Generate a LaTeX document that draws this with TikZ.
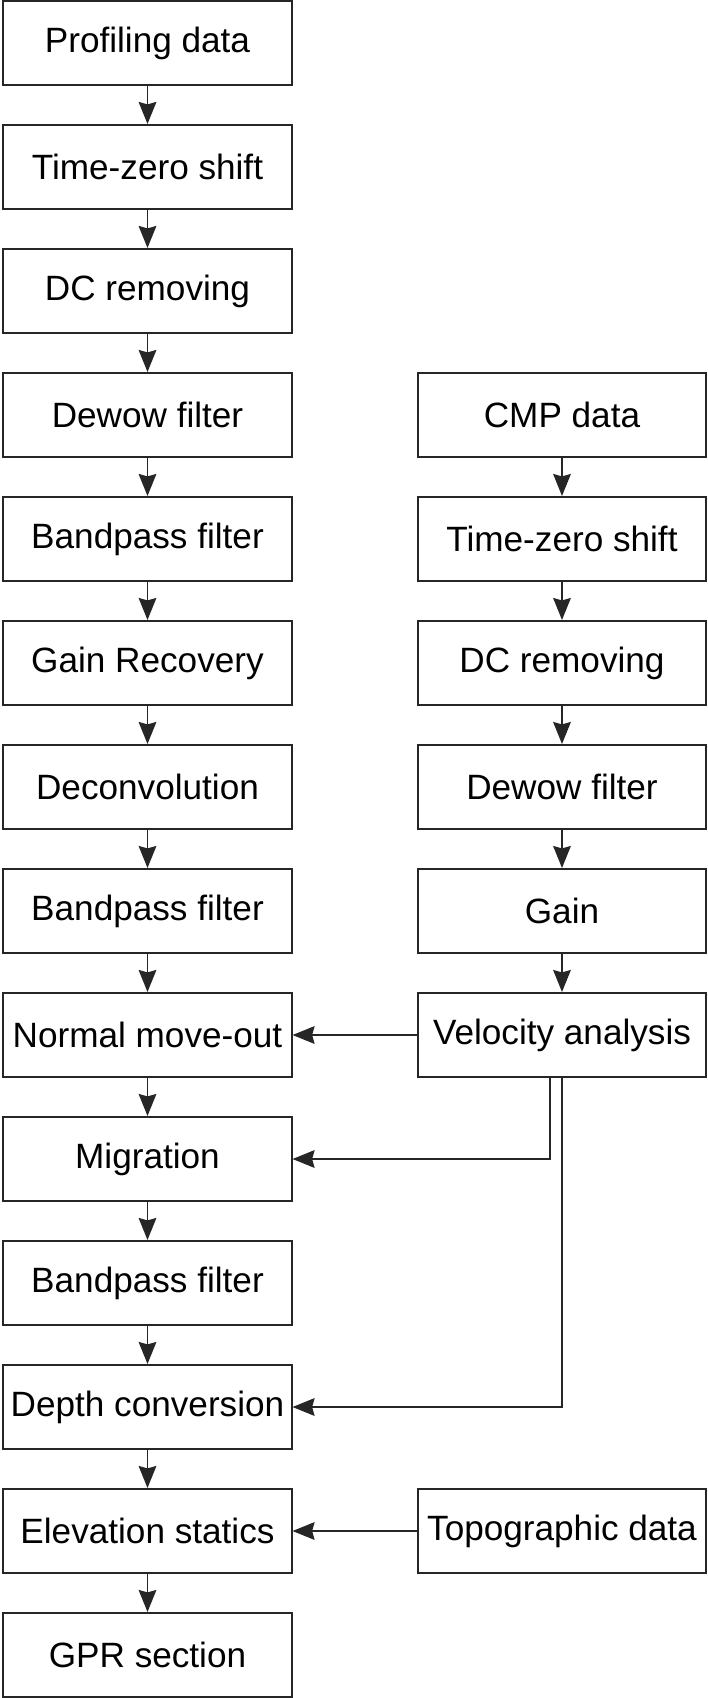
\documentclass[tikz,border=0pt]{standalone}
\usepackage{fontspec}
\setmainfont{Liberation Sans}
\usetikzlibrary{arrows.meta}
\tikzset{stage/.style={draw=black!85,line width=1.4pt,minimum width=7.2cm,
   minimum height=2.1cm,inner sep=0pt,font=\fontsize{25}{30}\selectfont},
 arr/.style={draw=black!85,line width=1.4pt,
   -{Stealth[length=5.5mm,width=4.4mm,inset=0.6mm]}},
 }

\begin{document}
\begin{tikzpicture}[x=0.025cm,y=-0.025cm]
    \useasboundingbox (0,0) rectangle (708,1698);
    % profiling branch
    \node[stage] (prof) at (147.5, 43) {Profiling data};
    \node[stage] (tzs) at (147.5, 167) {Time-zero shift};
    \node[stage] (dcr) at (147.5, 291) {DC removing};
    \node[stage] (dew) at (147.5, 415) {Dewow filter};
    \node[stage] (bpa) at (147.5, 539) {Bandpass filter};
    \node[stage] (gain) at (147.5, 663) {Gain Recovery};
    \node[stage] (dec) at (147.5, 787) {Deconvolution};
    \node[stage] (bpb) at (147.5, 911) {Bandpass filter};
    \node[stage] (nmo) at (147.5, 1035) {Normal move-out};
    \node[stage] (mig) at (147.5, 1159) {Migration};
    \node[stage] (bpc) at (147.5, 1283) {Bandpass filter};
    \node[stage] (dep) at (147.5, 1407) {Depth conversion};
    \node[stage] (elev) at (147.5, 1531) {Elevation statics};
    \node[stage] (gpr) at (147.5, 1655) {GPR section};
    % cmp branch
    \node[stage] (cmp) at (562, 415) {CMP data};
    \node[stage] (ctzs) at (562, 539) {Time-zero shift};
    \node[stage] (cdcr) at (562, 663) {DC removing};
    \node[stage] (cdew) at (562, 787) {Dewow filter};
    \node[stage] (cgain) at (562, 911) {Gain};
    \node[stage] (vel) at (562, 1035) {Velocity analysis};
    \node[stage] (topo) at (562, 1531) {Topographic data};

    \draw[arr] (prof) -- (tzs);
    \draw[arr] (tzs) -- (dcr);
    \draw[arr] (dcr) -- (dew);
    \draw[arr] (dew) -- (bpa);
    \draw[arr] (bpa) -- (gain);
    \draw[arr] (gain) -- (dec);
    \draw[arr] (dec) -- (bpb);
    \draw[arr] (bpb) -- (nmo);
    \draw[arr] (nmo) -- (mig);
    \draw[arr] (mig) -- (bpc);
    \draw[arr] (bpc) -- (dep);
    \draw[arr] (dep) -- (elev);
    \draw[arr] (elev) -- (gpr);

    \draw[arr] (cmp) -- (ctzs);
    \draw[arr] (ctzs) -- (cdcr);
    \draw[arr] (cdcr) -- (cdew);
    \draw[arr] (cdew) -- (cgain);
    \draw[arr] (cgain) -- (vel);

    \draw[arr] (vel) -- (nmo);
    \draw[arr] ([xshift=-3mm]vel.south) |- (mig.east);
    \draw[arr] (vel.south) |- (dep.east);
    \draw[arr] (topo) -- (elev);
\end{tikzpicture}
\end{document}
